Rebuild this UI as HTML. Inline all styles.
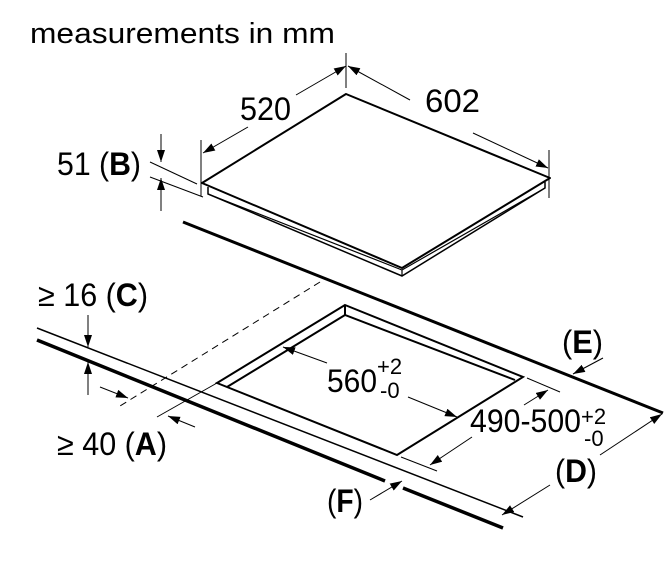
<!DOCTYPE html>
<html><head><meta charset="utf-8"><style>
html,body{margin:0;padding:0;background:#fff;}
svg{display:block;font-family:"Liberation Sans",sans-serif;}
</style></head><body>
<svg width="665" height="577" viewBox="0 0 665 577" xmlns="http://www.w3.org/2000/svg">
<defs>
<marker id="a" viewBox="0 0 12 8" refX="12" refY="4" markerWidth="12" markerHeight="8" markerUnits="userSpaceOnUse" orient="auto"><path d="M0,0L12,4L0,8z" fill="#000"/></marker>
</defs>
<g font-size="32" fill="#000" lengthAdjust="spacingAndGlyphs">
<text x="30" y="43" font-size="29" textLength="305" lengthAdjust="spacingAndGlyphs">measurements in mm</text>
<text x="240" y="120" textLength="51" lengthAdjust="spacingAndGlyphs">520</text>
<text x="425" y="112" textLength="55" lengthAdjust="spacingAndGlyphs">602</text>
<text x="57" y="175" textLength="84" lengthAdjust="spacingAndGlyphs">51 (<tspan font-weight="bold">B</tspan>)</text>
<text x="38" y="306" textLength="110" lengthAdjust="spacingAndGlyphs">≥ 16 (<tspan font-weight="bold">C</tspan>)</text>
<text x="57" y="455" textLength="110" lengthAdjust="spacingAndGlyphs">≥ 40 (<tspan font-weight="bold">A</tspan>)</text>
<text x="562" y="353" textLength="41" lengthAdjust="spacingAndGlyphs">(<tspan font-weight="bold">E</tspan>)</text>
<text x="555" y="482" textLength="42" lengthAdjust="spacingAndGlyphs">(<tspan font-weight="bold">D</tspan>)</text>
<text x="327" y="512" textLength="36" lengthAdjust="spacingAndGlyphs">(<tspan font-weight="bold">F</tspan>)</text>
<text x="327" y="392" textLength="50" lengthAdjust="spacingAndGlyphs">560</text>
<text x="470" y="432" textLength="111" lengthAdjust="spacingAndGlyphs">490-500</text>
</g>
<g font-size="22" fill="#000">
<text x="377" y="374">+2</text>
<text x="380" y="398">-0</text>
<text x="581" y="424">+2</text>
<text x="584" y="446">-0</text>
</g>
<g stroke="#000" fill="none">
<!-- hob -->
<path d="M208,187 L208,194 L402,276 L545,188 L545,182" stroke-width="1.5" fill="#fff"/>
<path d="M208,194 L402,270 L545,188 M402,270 L402,276" stroke-width="1.2"/>
<path d="M346,94 L550,178 L402,268 L202,183 Z" stroke-width="2" fill="#fff" stroke-linejoin="round"/>
<!-- top dims -->
<line x1="346" y1="53" x2="346" y2="88" stroke-width="1"/>
<line x1="201" y1="140" x2="201" y2="196" stroke-width="1"/>
<line x1="549" y1="150" x2="549" y2="198" stroke-width="1"/>
<line x1="296" y1="95" x2="346" y2="66" stroke-width="1" marker-end="url(#a)"/>
<line x1="248" y1="127" x2="203" y2="153" stroke-width="1" marker-end="url(#a)"/>
<line x1="410" y1="100" x2="348" y2="66" stroke-width="1" marker-end="url(#a)"/>
<line x1="473" y1="133" x2="548" y2="168" stroke-width="1" marker-end="url(#a)"/>
<!-- B -->
<line x1="150" y1="162" x2="197" y2="184" stroke-width="1"/>
<line x1="150" y1="177" x2="203" y2="197" stroke-width="1"/>
<line x1="161" y1="134" x2="161" y2="162" stroke-width="1" marker-end="url(#a)"/>
<line x1="161" y1="211" x2="161" y2="178" stroke-width="1" marker-end="url(#a)"/>
<!-- back edge -->
<line x1="183" y1="222" x2="663" y2="413" stroke-width="3"/>
<!-- front edges -->
<line x1="37" y1="328" x2="523" y2="517" stroke-width="1.5"/>
<path d="M37,340 L385,481 M403,488 L503,528" stroke-width="3.5"/>
<!-- dashed -->
<line x1="320" y1="282" x2="120" y2="406" stroke-width="1" stroke-dasharray="7,5"/>
<line x1="157" y1="417" x2="217" y2="383" stroke-width="1"/>
<!-- cutout -->
<path d="M345,305 L523,377 L397,455 L217,383 Z" stroke-width="2" stroke-linejoin="miter"/>
<path d="M227,387 L345,315 L515,380 M345,305 L345,315" stroke-width="2"/>
<!-- C -->
<line x1="88" y1="315" x2="88" y2="347" stroke-width="1" marker-end="url(#a)"/>
<line x1="88" y1="395" x2="88" y2="362" stroke-width="1" marker-end="url(#a)"/>
<!-- A -->
<line x1="100" y1="387" x2="128" y2="398" stroke-width="1" marker-end="url(#a)"/>
<line x1="195" y1="427" x2="168" y2="416" stroke-width="1" marker-end="url(#a)"/>
<!-- 560 -->
<line x1="327" y1="363" x2="283" y2="347" stroke-width="1" marker-end="url(#a)"/>
<line x1="408" y1="397" x2="457" y2="417" stroke-width="1" marker-end="url(#a)"/>
<!-- 490 -->
<line x1="527" y1="378" x2="560" y2="392" stroke-width="1"/>
<line x1="401" y1="457" x2="437" y2="471" stroke-width="1"/>
<line x1="524" y1="405" x2="548" y2="390" stroke-width="1" marker-end="url(#a)"/>
<line x1="472" y1="437" x2="430" y2="465" stroke-width="1" marker-end="url(#a)"/>
<!-- D -->
<line x1="600" y1="455" x2="662" y2="414" stroke-width="1" marker-end="url(#a)"/>
<line x1="550" y1="485" x2="502" y2="515" stroke-width="1" marker-end="url(#a)"/>
<!-- E -->
<line x1="603" y1="358" x2="573" y2="374" stroke-width="1" marker-end="url(#a)"/>
<!-- F -->
<line x1="370" y1="500" x2="402" y2="481" stroke-width="1" marker-end="url(#a)"/>
</g>
</svg>
</body></html>
